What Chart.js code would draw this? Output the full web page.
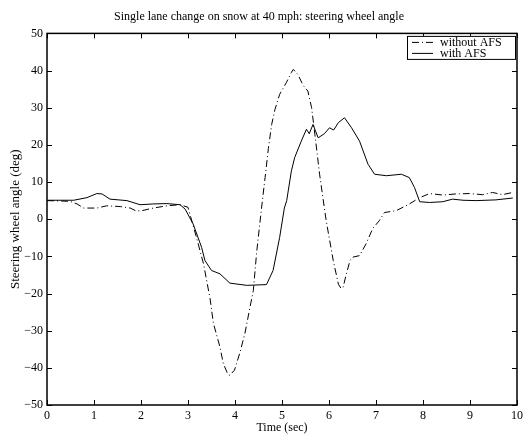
<!DOCTYPE html>
<html><head><meta charset="utf-8">
<script src="https://cdn.jsdelivr.net/npm/chart.js@4/dist/chart.umd.min.js"></script>
<style>html,body{margin:0;padding:0;background:#fff;}#wrap{width:527px;height:434px;}</style>
</head><body><div id="wrap"><canvas id="c" width="527" height="434"></canvas></div>
<script>
const chartTitle = 'Single lane change on snow at 40 mph: steering wheel angle';
const xLabel = 'Time (sec)';
const yLabel = 'Steering wheel angle (deg)';
const seriesNames = ['without AFS', 'with AFS'];
const xTickValues = [0,1,2,3,4,5,6,7,8,9,10];
const yTickValues = [-50,-40,-30,-20,-10,0,10,20,30,40,50];

const timeWithout = [0,0.3,0.49,0.64,0.78,1.06,1.27,1.56,1.77,1.9,2.02,2.26,2.55,2.83,3.0,3.18,3.33,3.47,3.54,3.68,3.75,3.85,3.89,3.99,4.10,4.21,4.32,4.39,4.46,4.56,4.64,4.71,4.78,4.85,4.95,5.09,5.2,5.24,5.34,5.45,5.55,5.63,5.70,5.80,5.87,5.94,6.09,6.2,6.26,6.30,6.37,6.45,6.51,6.65,6.79,6.93,7.07,7.18,7.43,7.71,7.93,8.14,8.42,8.70,8.99,9.27,9.48,9.69,9.91];
const angleWithout = [5.0,4.9,4.8,4.1,3.0,3.0,3.6,3.4,3.0,2.2,2.3,3.0,3.6,3.9,3.2,-4.9,-12,-21.4,-28,-34.4,-38.8,-41.8,-42,-40.6,-36.1,-30.8,-23.6,-19.2,-9,2.5,11.2,19,25.5,29.5,33.6,36.7,39.5,40.3,38.9,36,34.5,30,22.8,12.1,5.8,-0.4,-11.1,-17.5,-18.7,-18.3,-14.7,-11,-10.2,-9.8,-6.6,-2.5,-0.4,1.8,2.3,4.1,5.8,6.9,6.5,6.8,6.9,6.6,7.2,6.6,7.2];

const timeWith = [0,0.57,0.85,1.06,1.17,1.34,1.70,1.98,2.26,2.55,2.83,2.94,3.11,3.29,3.36,3.50,3.68,3.89,4.25,4.67,4.81,4.95,5.05,5.10,5.20,5.27,5.41,5.52,5.58,5.66,5.72,5.77,5.9,6.01,6.1,6.2,6.33,6.48,6.65,6.83,6.97,7.22,7.54,7.71,7.82,7.93,8.14,8.42,8.63,8.85,9.13,9.55,9.91];
const angleWith = [5.1,5.1,5.8,6.9,6.8,5.4,5.0,3.9,4.1,4.2,3.9,2.7,-1.3,-7.6,-11.1,-13.8,-14.7,-17.2,-17.8,-17.6,-13.8,-4.9,3,5,13,16.6,21,24.2,23,25.5,23.5,21.9,23,24.6,24,26,27.3,24.6,21,14.8,12.1,11.7,12.1,11.2,8.5,4.7,4.5,4.7,5.4,5.1,5.0,5.2,5.7];

const serif = "'Liberation Serif', 'Times New Roman', serif";
const toPts = (xs, ys) => xs.map((t, i) => ({x: t, y: ys[i]}));
const minus = v => String(v).replace('-', '\u2212');

const frameAndTicks = {
  id: 'frameAndTicks',
  afterDatasetsDraw(chart) {
    const {ctx, chartArea: a, scales: {x, y}} = chart;
    ctx.save();
    ctx.strokeStyle = '#000';
    ctx.lineWidth = 1;
    const L = 5;
    ctx.beginPath();
    xTickValues.forEach(v => {
      const px = Math.round(x.getPixelForValue(v)) + 0.5;
      ctx.moveTo(px, a.bottom); ctx.lineTo(px, a.bottom - L);
      ctx.moveTo(px, a.top); ctx.lineTo(px, a.top + L);
    });
    yTickValues.forEach(v => {
      const py = Math.round(y.getPixelForValue(v)) + 0.5;
      ctx.moveTo(a.left, py); ctx.lineTo(a.left + L, py);
      ctx.moveTo(a.right, py); ctx.lineTo(a.right - L, py);
    });
    ctx.stroke();
    ctx.lineWidth = 1.5;
    ctx.strokeRect(a.left, a.top, a.right - a.left, a.bottom - a.top);
    // legend
    const bx = a.right - 110, by = a.top + 2.5, bw = 108, bh = 23;
    ctx.fillStyle = '#fff';
    ctx.fillRect(bx, by, bw, bh);
    ctx.lineWidth = 1;
    ctx.strokeRect(bx + 0.5, by + 0.5, bw, bh);
    ctx.font = '12px ' + serif;
    ctx.textBaseline = 'middle';
    ctx.textAlign = 'left';
    chart.data.datasets.forEach((ds, i) => {
      const cy = by + 6.5 + i * 11;
      ctx.beginPath();
      ctx.setLineDash(ds.borderDash || []);
      ctx.moveTo(bx + 5, cy); ctx.lineTo(bx + 26, cy);
      ctx.stroke();
      ctx.setLineDash([]);
      ctx.fillStyle = '#000';
      ctx.fillText(ds.label, bx + 33, cy);
    });
    ctx.restore();
  }
};

new Chart(document.getElementById('c'), {
  type: 'line',
  data: {
    datasets: [
      {label: seriesNames[0], data: toPts(timeWithout, angleWithout), borderColor: '#000', borderWidth: 1, borderDash: [7,3,1,3], pointRadius: 0, tension: 0, fill: false},
      {label: seriesNames[1], data: toPts(timeWith, angleWith), borderColor: '#000', borderWidth: 1, pointRadius: 0, tension: 0, fill: false}
    ]
  },
  options: {
    responsive: false,
    animation: false,
    devicePixelRatio: 1,
    layout: {padding: {left: 0, right: 9, top: 0, bottom: 0}},
    plugins: {
      legend: {display: false},
      tooltip: {enabled: false},
      title: {display: true, text: chartTitle, color: '#000', font: {family: serif, size: 12, weight: 'normal', lineHeight: 1.2}, padding: {top: 10, bottom: 9}}
    },
    scales: {
      x: {
        type: 'linear', min: 0, max: 10,
        afterBuildTicks: s => { s.ticks = xTickValues.map(v => ({value: v})); },
        afterFit: s => { s.height = 29; },
        grid: {display: false, drawTicks: false},
        border: {display: false},
        ticks: {color: '#000', font: {family: serif, size: 12}, padding: 4, maxRotation: 0, callback: v => minus(v)},
        title: {display: true, text: xLabel, color: '#000', font: {family: serif, size: 12, lineHeight: 1}, padding: {top: 0, bottom: 0}}
      },
      y: {
        type: 'linear', min: -50, max: 50,
        afterBuildTicks: s => { s.ticks = yTickValues.map(v => ({value: v})); },
        afterFit: s => { s.width = 47; },
        grid: {display: false, drawTicks: false},
        border: {display: false},
        ticks: {color: '#000', font: {family: serif, size: 12}, padding: 4, callback: v => minus(v)},
        title: {display: true, text: yLabel, color: '#000', font: {family: serif, size: 13, lineHeight: 1}, padding: {top: 9, bottom: 0}}
      }
    }
  },
  plugins: [frameAndTicks]
});
</script>
</body></html>
